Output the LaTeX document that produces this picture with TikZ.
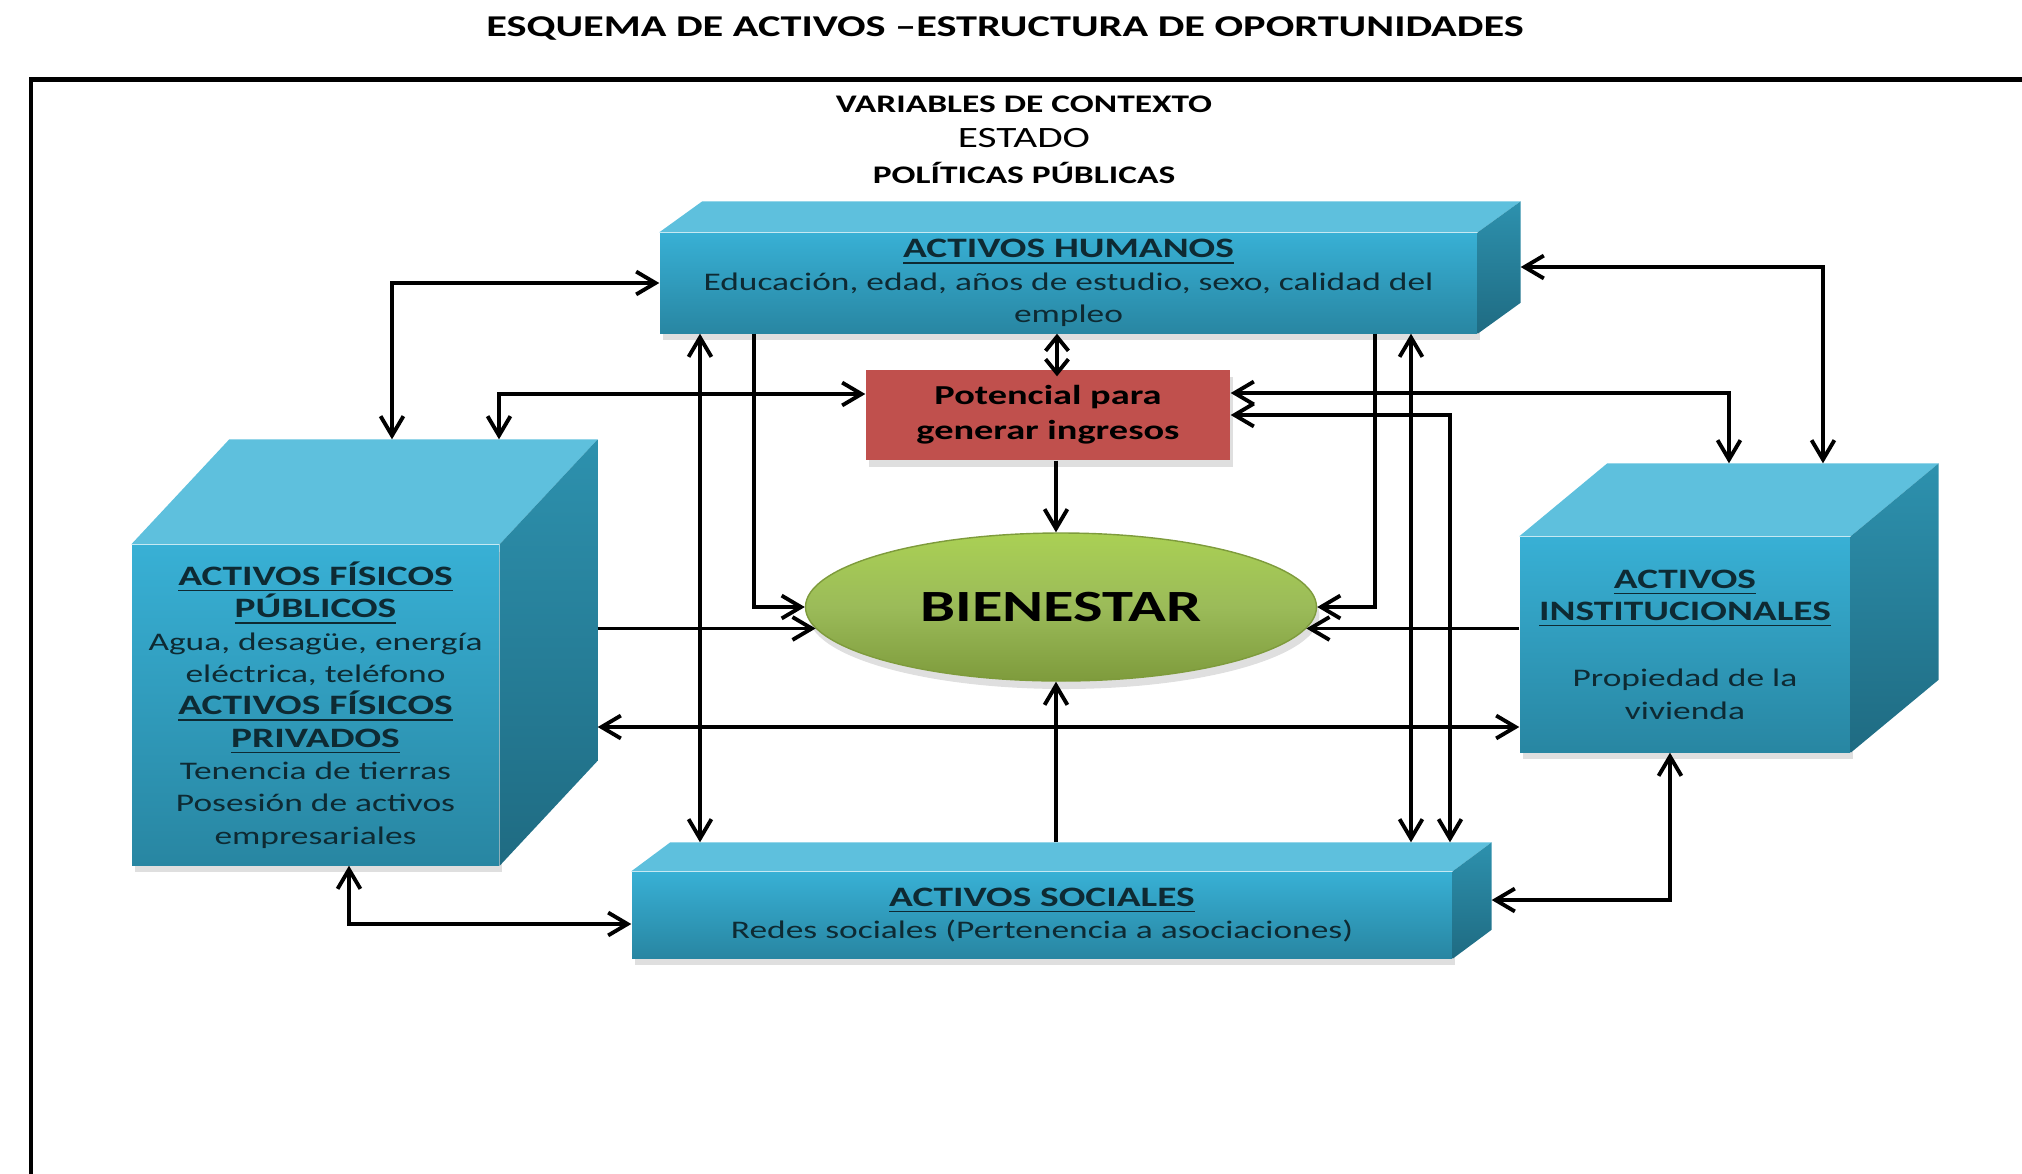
\documentclass[tikz,border=0pt]{standalone}
\usepackage{fontspec}
\setmainfont{Carlito}[FakeStretch=1.4]
\usetikzlibrary{arrows.meta, calc, shapes.geometric, shadows}
\tikzset{>={Straight Barb[length=5.5pt,width=6.5pt]}}

\definecolor{frentearriba}{HTML}{38B0D5}
\definecolor{frenteabajo}{HTML}{2886A2}
\definecolor{tapa}{HTML}{5EC0DD}
\definecolor{ladoarriba}{HTML}{2D91AE}
\definecolor{ladoabajo}{HTML}{1F6B82}
\definecolor{rojo}{HTML}{C0504D}
\definecolor{verdearriba}{HTML}{AAD054}
\definecolor{verde}{HTML}{9BBB59}
\definecolor{verdeabajo}{HTML}{7E9B3C}
\definecolor{tinta}{HTML}{0E2A33}

\tikzset{
  frente/.style={rectangle, inner sep=0pt, align=center, text=tinta,
    top color=frentearriba, bottom color=frenteabajo,
    drop shadow={shadow xshift=0.3mm, shadow yshift=-0.7mm, opacity=0.25},
    font=\fontsize{7.2}{9.2}\selectfont},
  flecha/.style={line width=1.1pt},
}

% encabezado subrayado de cada caja
\newcommand{\encab}[1]{{\fontsize{8}{9.6}\selectfont\bfseries\underline{#1}}}
% caras superior y lateral de una caja
\newcommand{\caras}[3]{%
  \fill[tapa] (#1.north west) -- ++(#2,#3) coordinate (#1-t)
    -- ($(#1.north east)+(#2,#3)$) -- (#1.north east) -- cycle;
  \shade[top color=ladoarriba, bottom color=ladoabajo] (#1.north east)
    -- ($(#1.north east)+(#2,#3)$) -- ($(#1.south east)+(#2,#3)$) coordinate (#1-d)
    -- (#1.south east) -- cycle;}

\begin{document}
\begin{tikzpicture}
\useasboundingbox (0,0) rectangle (20.22,-11.74);

% marco
\draw[line width=1.4pt] (20.4,-0.795) -- (0.31,-0.795) -- (0.31,-11.9);

% titulos
\node[font=\fontsize{8.6}{10}\selectfont\bfseries] (titulo) at (10.05,-0.28)
  {ESQUEMA DE ACTIVOS –ESTRUCTURA DE OPORTUNIDADES};
\node[font=\fontsize{7.2}{8}\selectfont\bfseries] (contexto) at (10.24,-1.04) {VARIABLES DE CONTEXTO};
\node[font=\fontsize{8.4}{9}\selectfont] (estado) at (10.24,-1.38) {ESTADO};
\node[font=\fontsize{7.2}{8}\selectfont\bfseries] (politicas) at (10.24,-1.73) {POLÍTICAS PÚBLICAS};

% cajas
\node[frente, minimum width=8.17cm, minimum height=1cm] (hum) at (10.685,-2.83)
  {\encab{ACTIVOS HUMANOS}\\Educación, edad, años de estudio, sexo, calidad del\\empleo};
\caras{hum}{0.43}{0.31}

\node[frente, minimum width=3.67cm, minimum height=3.2cm] (izq) at (3.155,-7.05)
  {\encab{ACTIVOS FÍSICOS}\\\encab{PÚBLICOS}\\Agua, desagüe, energía\\eléctrica, teléfono\\
   \encab{ACTIVOS FÍSICOS}\\\encab{PRIVADOS}\\Tenencia de tierras\\Posesión de activos\\empresariales};
\caras{izq}{0.98}{1.05}

\node[frente, minimum width=3.3cm, minimum height=2.15cm] (der) at (16.85,-6.445)
  {\encab{ACTIVOS}\\\encab{INSTITUCIONALES}\\[0.34cm]Propiedad de la\\vivienda};
\caras{der}{0.88}{0.73}

\node[frente, minimum width=8.2cm, minimum height=0.86cm] (soc) at (10.42,-9.15)
  {\encab{ACTIVOS SOCIALES}\\Redes sociales (Pertenencia a asociaciones)};
\caras{soc}{0.39}{0.29}

\node[rectangle, fill=rojo, minimum width=3.64cm, minimum height=0.9cm, inner sep=0pt,
  align=center, drop shadow={shadow xshift=0.3mm, shadow yshift=-0.7mm, opacity=0.25},
  font=\fontsize{7.8}{9.9}\selectfont\bfseries] (pot) at (10.48,-4.15)
  {Potencial para\\generar ingresos};

\node[ellipse, minimum width=5.11cm, minimum height=1.48cm, inner sep=0pt,
  top color=verdearriba, bottom color=verdeabajo, middle color=verde,
  draw=verdeabajo, line width=0.4pt,
  drop shadow={shadow xshift=0.3mm, shadow yshift=-0.8mm, opacity=0.25},
  font=\fontsize{12.7}{14}\selectfont\bfseries] (bien) at (10.61,-6.07) {BIENESTAR};

% flechas
\draw[flecha, <->] (3.92,0 |- izq-t) |- (hum.west);
\draw[flecha, <->] (4.99,0 |- izq-t) |- ([yshift=2.1mm]pot.west);
\draw[flecha, <->] (7.00,0 |- hum.south) -- (7.00,0 |- soc-t);
\draw[flecha, ->] (7.54,0 |- hum.south) |- (bien.west);
\draw[flecha, ->] (bien.185 -| izq-d) -- (bien.185);
\draw[flecha, <->] (izq-d |- 0,-7.27) -- (der.west |- 0,-7.27);
\draw[flecha, ->] (10.56,0 |- soc-t) -- (10.56,0 |- bien.south);
\draw[flecha, ->] (10.56,0 |- pot.south) -- (10.56,0 |- bien.north);
\draw[flecha, {Straight Barb[length=4pt,width=6.5pt]}-{Straight Barb[length=4pt,width=6.5pt]}]
  (10.57,0 |- hum.south) -- ([yshift=-0.7mm]10.57,0 |- pot.north);
\draw[flecha, ->] (13.75,0 |- hum.south) |- (bien.east);
\draw[flecha, <->] (14.11,0 |- hum.south) -- (14.11,0 |- soc-t);
\draw[flecha, <->] (14.50,0 |- soc-t) |- (pot.east);
\draw[flecha, <->] (17.29,0 |- der-t) |- ([yshift=2.2mm]pot.east);
\draw[flecha, <->] (18.23,0 |- der-t) |- (hum-d |- 0,-2.67);
\draw[flecha, ->] (bien.-5 -| der.west) -- (bien.-5);
\draw[flecha, <->] (3.49,0 |- izq.south) |- ([yshift=-0.9mm]soc.west);
\draw[flecha, <->] (soc-d |- 0,-9.00) -| (16.70,0 |- der.south);
\end{tikzpicture}
\end{document}
